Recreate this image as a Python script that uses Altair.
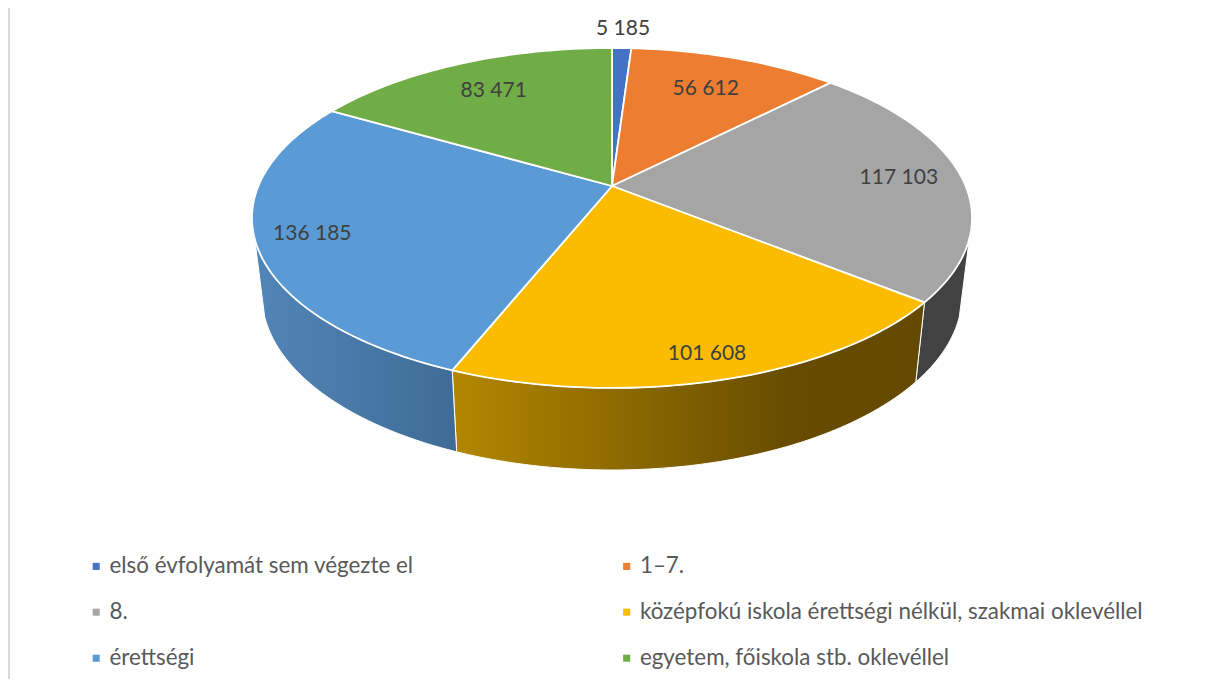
import math
import altair as alt
import pandas as pd

categories = ["első évfolyamát sem végezte el", "1–7.", "8.",
              "középfokú iskola érettségi nélkül, szakmai oklevéllel",
              "érettségi", "egyetem, főiskola stb. oklevéllel"]
values = [5185, 56612, 117103, 101608, 136185, 83471]
value_labels = ["5 185", "56 612", "117 103", "101 608", "136 185", "83 471"]
colors = ["#4472C4", "#ED7D31", "#A5A5A5", "#FBBC00", "#5B9BD5", "#70AD47"]
label_radius = [1.17, 0.73, 0.82, 0.89, 0.85, 0.75]

# geometry of the tilted disc, in page pixels
CX, CY = 612, 186
D, A, C = 353.6, 164.0, -0.188
TOP = (218, 360, 170)      # ellipse centre y, rx, ry of the top face
BOT = (295, 350, 175)      # same for the bottom edge
SIL = math.radians(7)      # where the side silhouette meets the ellipses


def project(frac, r=1.0):
    a = 2 * math.pi * frac
    u, v = r * math.sin(a), -r * math.cos(a)
    w = 1 + C * v
    return CX + D * u / w, CY + A * v / w


def phi_of(frac):
    x, y = project(frac)
    return math.atan2((y - TOP[0]) / TOP[2], (x - CX) / TOP[1])


def on_ellipse(e, phi):
    return CX + e[1] * math.cos(phi), e[0] + e[2] * math.sin(phi)


total = sum(values)
cum = [0]
for val in values:
    cum.append(cum[-1] + val / total)

rows, labels = [], []
for i, cat in enumerate(categories):
    n = max(3, int((cum[i + 1] - cum[i]) * 240))
    pts = [(CX, CY)] + [project(cum[i] + (cum[i + 1] - cum[i]) * k / n) for k in range(n + 1)] + [(CX, CY)]
    rows += [{"cat": cat, "idx": k, "x": p[0], "y": p[1]} for k, p in enumerate(pts)]
    lx, ly = project((cum[i] + cum[i + 1]) / 2, label_radius[i])
    labels.append({"x": lx, "y": ly, "t": value_labels[i]})


def side_frame(phi_a, phi_b):
    n = 80
    phis = [phi_a + (phi_b - phi_a) * k / n for k in range(n + 1)]
    pts = [on_ellipse(BOT, p) for p in phis] + [on_ellipse(TOP, p) for p in reversed(phis)]
    pts.append(pts[0])
    return pd.DataFrame([{"idx": k, "x": p[0], "y": p[1]} for k, p in enumerate(pts)])


phi_gray_yellow = phi_of(cum[3])
phi_yellow_blue = phi_of(cum[4])

X = alt.X("x:Q", scale=alt.Scale(domain=[8, 1205]), axis=None)
Y = alt.Y("y:Q", scale=alt.Scale(domain=[679, 8]), axis=None)


def grad(stops):
    return alt.LinearGradient(gradient="linear", x1=0, x2=1, y1=0, y2=0,
                              stops=[alt.GradientStop(offset=o, color=c) for o, c in stops])


def side(phi_a, phi_b, fill):
    return alt.Chart(side_frame(phi_a, phi_b)).mark_line(
        fill=fill, stroke="white", strokeWidth=1, strokeJoin="round"
    ).encode(x=X, y=Y, order="idx:Q")


side_gray = side(SIL, phi_gray_yellow, "#424242")
side_yellow = side(phi_gray_yellow, phi_yellow_blue,
                   grad([(0, "#B38700"), (0.72, "#664C00"), (1, "#634A00")]))
side_blue = side(phi_yellow_blue, math.pi - SIL,
                 grad([(0, "#5285B8"), (1, "#3F6C96")]))

wedges = alt.Chart(pd.DataFrame(rows)).mark_line(
    stroke="white", strokeWidth=1.8, strokeJoin="round"
).encode(
    x=X, y=Y, order="idx:Q",
    fill=alt.Fill("cat:N", scale=alt.Scale(domain=categories, range=colors),
                  legend=alt.Legend(
                      title=None, orient="none", legendX=77, legendY=547,
                      columns=2, direction="horizontal", symbolType="square",
                      symbolSize=50, symbolStrokeWidth=0, symbolFillColor=None,
                      labelFont="Lato", labelFontSize=22.4, labelColor="#595959",
                      labelLimit=700, columnPadding=201.5, rowPadding=23,
                      labelOffset=2, padding=0)),
)

text = alt.Chart(pd.DataFrame(labels)).mark_text(
    font="Lato", fontSize=21, color="#404040"
).encode(x=X, y=Y, text="t:N")

border = alt.Chart(pd.DataFrame({"x": [9.0]})).mark_rule(
    color="#D9D9D9", strokeWidth=2
).encode(x=X)

chart = alt.layer(border, side_gray, side_yellow, side_blue, wedges, text).properties(
    width=1197, height=671, padding=0,
    autosize=alt.AutoSizeParams(type="none"),
).configure_view(stroke=None)

chart.save("out.html", embed_options={"renderer": "svg", "actions": False})
